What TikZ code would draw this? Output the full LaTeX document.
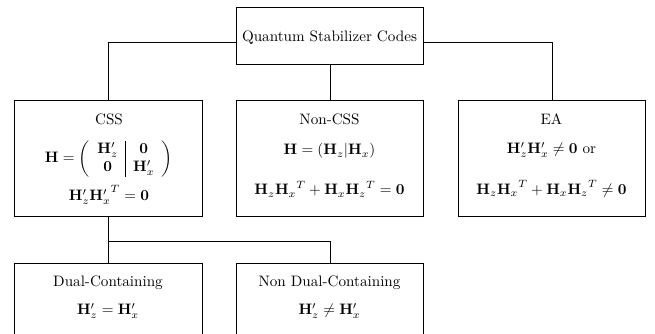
\documentclass[tikz,border=0pt]{standalone}
\usepackage{amsmath}
\newlength\pxu
\setlength\pxu{0.661pt}
\begin{document}
\begin{tikzpicture}[x=0.661pt,y=-0.661pt,
  box/.style={draw, line width=0.6pt, inner sep=0pt, anchor=north west},
  bw/.style={minimum width=#1*\pxu},
  bh/.style={minimum height=#1*\pxu},
  lbl/.style={inner sep=0pt, anchor=center},
  conn/.style={line width=0.6pt}]
\useasboundingbox (0,0) rectangle (655,333);
\clip (0,0) rectangle (655,333);
% boxes
\node[box, bw=187, bh=57] (top) at (236,7) {};
\node[box, bw=188, bh=116] (css) at (14,100) {};
\node[box, bw=187, bh=116] (noncss) at (236,100) {};
\node[box, bw=187, bh=116] (ea) at (458,100) {};
\node[box, bw=188, bh=100] (dual) at (14,263) {};
\node[box, bw=187, bh=100] (nondual) at (236,263) {};
% texts
\node[lbl] (toptxt) at (329.5,38) {Quantum Stabilizer Codes};
\node[lbl] (csst) at (109,119) {CSS};
\node[lbl] (cssm) at (109,159) {$\mathbf{H}=\left(\begin{array}{c|c}\mathbf{H}'_z & \mathbf{0}\\ \mathbf{0} & \mathbf{H}'_x\end{array}\right)$};
\node[lbl] (csse) at (109,195) {$\mathbf{H}'_z{\mathbf{H}'_x}^T=\mathbf{0}$};
\node[lbl] (nct) at (329.5,119) {Non-CSS};
\node[lbl] (ncm) at (329.5,151) {$\mathbf{H}=(\mathbf{H}_z|\mathbf{H}_x)$};
\node[lbl] (nce) at (329.5,189) {$\mathbf{H}_z{\mathbf{H}_x}^T+\mathbf{H}_x{\mathbf{H}_z}^T=\mathbf{0}$};
\node[lbl] (eat) at (551.5,119) {EA};
\node[lbl] (eam) at (551.5,150) {$\mathbf{H}'_z\mathbf{H}'_x\neq\mathbf{0}$ or};
\node[lbl] (eae) at (551.5,189) {$\mathbf{H}_z{\mathbf{H}_x}^T+\mathbf{H}_x{\mathbf{H}_z}^T\neq\mathbf{0}$};
\node[lbl] (dct) at (108,283) {Dual-Containing};
\node[lbl] (dce) at (108,311) {$\mathbf{H}'_z=\mathbf{H}'_x$};
\node[lbl] (ndct) at (329.5,283) {Non Dual-Containing};
\node[lbl] (ndce) at (329.5,311) {$\mathbf{H}'_z\neq\mathbf{H}'_x$};
% connectors
\draw[conn] ([yshift=-6.5*\pxu]top.west) -| (css.north);
\draw[conn] (top.south) -- (noncss.north);
\draw[conn] ([yshift=-6.5*\pxu]top.east) -| (ea.north);
\coordinate (split) at (108,241);
\draw[conn] (css.south) -- (dual.north);
\draw[conn] (split) -| (nondual.north);
\end{tikzpicture}
\end{document}
